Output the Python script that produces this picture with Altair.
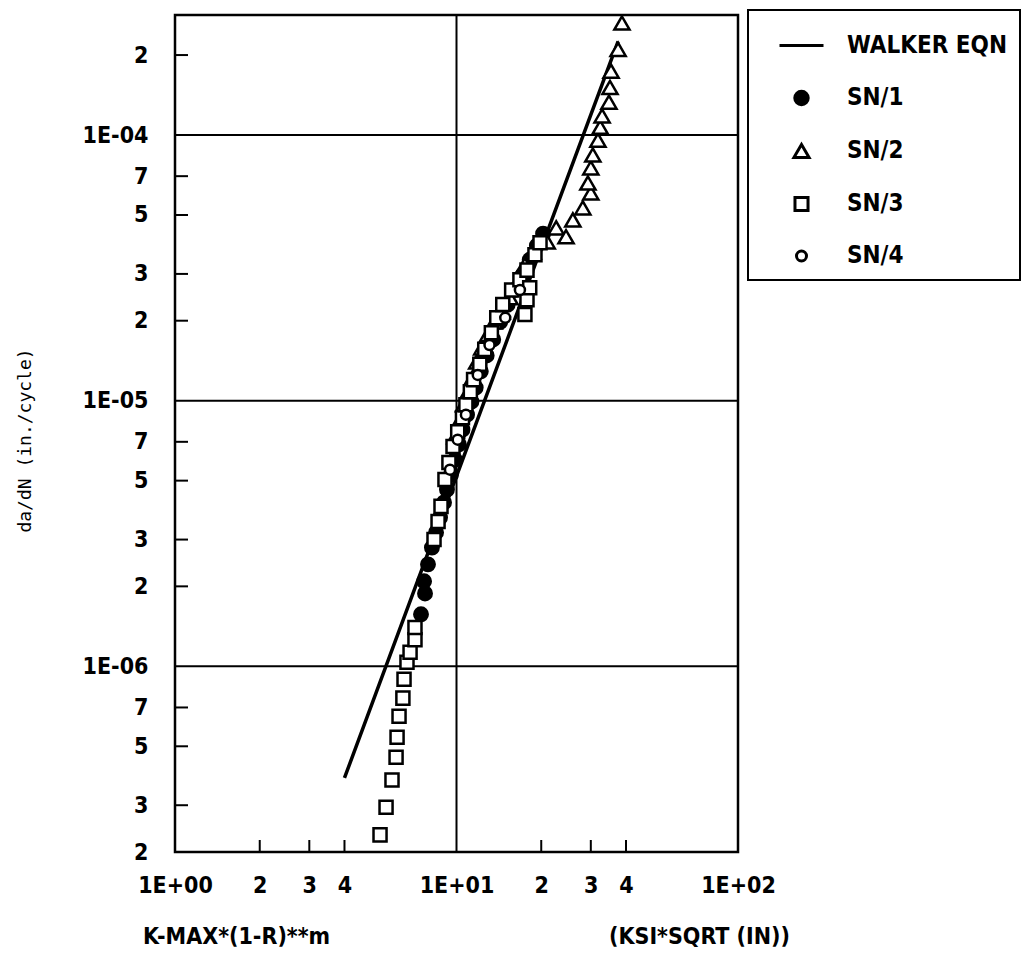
import altair as alt
import pandas as pd

# ---------------- data ----------------
walker_x = [4.0, 10.0, 37.5]
walker_y = [3.8e-7, 5.2e-6, 2.25e-4]

sn1_x = [7.48, 7.73, 7.67, 7.92, 8.18, 8.46, 8.74, 9.03, 9.25, 9.56, 9.88, 10.2,
         10.5, 10.9, 11.3, 11.7, 12.2, 12.8, 13.5, 14.3, 15.2, 16.1, 17.2, 18.2,
         19.3, 20.3]
sn1_y = [1.57e-6, 1.88e-6, 2.09e-6, 2.42e-6, 2.80e-6, 3.19e-6, 3.63e-6, 4.14e-6,
         4.63e-6, 5.27e-6, 6.00e-6, 6.84e-6, 7.78e-6, 8.86e-6, 9.91e-6, 1.12e-5,
         1.29e-5, 1.48e-5, 1.70e-5, 1.98e-5, 2.30e-5, 2.61e-5, 2.98e-5, 3.39e-5,
         3.83e-5, 4.25e-5]

sn2_x = [9.88, 10.3, 10.6, 11.0, 11.4, 11.8, 12.3, 12.9, 13.6, 14.5, 15.5, 16.5,
         17.5, 18.7, 21.0, 22.6, 24.5, 25.9, 28.1, 30.0, 29.3, 30.0, 30.5, 31.8,
         32.4, 32.9, 34.8, 35.1, 35.4, 37.5, 38.7]
sn2_y = [7.32e-6, 8.48e-6, 9.66e-6, 1.08e-5, 1.22e-5, 1.40e-5, 1.58e-5, 1.77e-5,
         1.98e-5, 2.16e-5, 2.44e-5, 2.80e-5, 3.25e-5, 3.63e-5, 3.96e-5, 4.47e-5,
         4.14e-5, 4.79e-5, 5.32e-5, 6.05e-5, 6.60e-5, 7.52e-5, 8.41e-5, 9.57e-5,
         1.07e-4, 1.18e-4, 1.33e-4, 1.51e-4, 1.74e-4, 2.10e-4, 2.64e-4]

sn3_x = [5.35, 5.62, 5.90, 6.10, 6.15, 6.25, 6.45, 6.51, 6.67, 6.84, 7.12, 7.12,
         8.32, 8.60, 8.81, 9.10, 9.40, 9.72, 10.1, 10.5, 10.8, 11.2, 11.5, 12.1,
         12.6, 13.3, 13.9, 14.6, 15.7, 16.8, 17.8, 18.2, 17.5, 19.0, 19.8, 17.8]
sn3_y = [2.32e-7, 2.95e-7, 3.73e-7, 4.55e-7, 5.41e-7, 6.49e-7, 7.59e-7, 8.94e-7,
         1.035e-6, 1.13e-6, 1.26e-6, 1.40e-6,
         3.00e-6, 3.51e-6, 4.00e-6, 5.05e-6, 5.85e-6, 6.72e-6, 7.64e-6, 8.63e-6,
         9.66e-6, 1.08e-5, 1.20e-5, 1.37e-5, 1.56e-5, 1.80e-5, 2.05e-5, 2.30e-5,
         2.61e-5, 2.85e-5, 2.40e-5, 2.66e-5, 2.11e-5, 3.54e-5, 3.93e-5, 3.10e-5]

sn4_x = [9.48, 10.1, 10.8, 11.9, 13.1, 14.9, 16.8]
sn4_y = [5.50e-6, 7.13e-6, 8.86e-6, 1.25e-5, 1.62e-5, 2.05e-5, 2.61e-5]

series_names = ["WALKER EQN", "SN/1", "SN/2", "SN/3", "SN/4"]

x_tick_values = [1, 2, 3, 4, 10, 20, 30, 40, 100]
x_tick_labels = ["1E+00", "2", "3", "4", "1E+01", "2", "3", "4", "1E+02"]
y_tick_values = [2e-7, 3e-7, 5e-7, 7e-7, 1e-6, 2e-6, 3e-6, 5e-6, 7e-6,
                 1e-5, 2e-5, 3e-5, 5e-5, 7e-5, 1e-4, 2e-4]
y_tick_labels = ["2", "3", "5", "7", "1E-06", "2", "3", "5", "7",
                 "1E-05", "2", "3", "5", "7", "1E-04", "2"]
x_minor = [2, 3, 4, 20, 30, 40]
y_minor = [2e-7, 3e-7, 5e-7, 7e-7, 2e-6, 3e-6, 5e-6, 7e-6,
           2e-5, 3e-5, 5e-5, 7e-5, 2e-4]
x_grid = [10]
y_grid = [1e-6, 1e-5, 1e-4]

x_title_left = "K-MAX*(1-R)**m"
x_title_right = "(KSI*SQRT (IN))"
y_title = "da/dN (in./cycle)"

# ---------------- tables ----------------
pts = pd.concat([
    pd.DataFrame({"x": sn1_x, "y": sn1_y, "series": "SN/1"}),
    pd.DataFrame({"x": sn2_x, "y": sn2_y, "series": "SN/2"}),
    pd.DataFrame({"x": sn3_x, "y": sn3_y, "series": "SN/3"}),
    pd.DataFrame({"x": sn4_x, "y": sn4_y, "series": "SN/4"}),
], ignore_index=True)
walker = pd.DataFrame({"x": walker_x, "y": walker_y})

W, H = 563, 837
FONT = "Liberation Sans Narrow, DejaVu Sans Condensed, Arial Narrow, sans-serif"


def label_expr(vals, labs):
    parts = [f"abs(datum.value - {v!r}) < {v * 1e-3!r} ? '{l}'" for v, l in zip(vals, labs)]
    return " : ".join(parts) + " : ''"


xscale = alt.Scale(type="log", domain=[1, 100], nice=False)
yscale = alt.Scale(type="log", domain=[2e-7, 2.83e-4], nice=False)

x_axis = alt.Axis(values=x_tick_values, labelExpr=label_expr(x_tick_values, x_tick_labels),
                  ticks=False, grid=False, labelPadding=22, labelFlush=False,
                  labelOverlap=False, title=x_title_left, titleX=61, titleY=84,
                  titleBaseline="middle", titleAnchor="middle", titleAlign="center")
y_axis = alt.Axis(values=y_tick_values, labelExpr=label_expr(y_tick_values, y_tick_labels),
                  ticks=False, grid=False, labelPadding=27, labelFlush=False,
                  labelOverlap=False, title=y_title, titleX=-150, titleY=425,
                  titleFont="DejaVu Sans Mono", titleFontSize=18, titleFontWeight="normal",
                  titleAlign="center", titleBaseline="middle", titleAngle=270)

X = alt.X("x:Q", scale=xscale, axis=x_axis)
Y = alt.Y("y:Q", scale=yscale, axis=y_axis)

grid_x = alt.Chart(pd.DataFrame({"x": x_grid})).mark_rule(color="black", strokeWidth=2).encode(
    x=alt.X("x:Q", scale=xscale))
grid_y = alt.Chart(pd.DataFrame({"y": y_grid})).mark_rule(color="black", strokeWidth=2).encode(
    y=alt.Y("y:Q", scale=yscale))
tick_x = alt.Chart(pd.DataFrame({"x": x_minor})).mark_rule(color="black", strokeWidth=2).encode(
    x=alt.X("x:Q", scale=xscale), y=alt.value(H - 12), y2=alt.value(H))
tick_y = alt.Chart(pd.DataFrame({"y": y_minor})).mark_rule(color="black", strokeWidth=2).encode(
    y=alt.Y("y:Q", scale=yscale), x=alt.value(0), x2=alt.value(13))

line = alt.Chart(walker).mark_line(color="black", strokeWidth=3.5).encode(x=X, y=Y)

leg = alt.Legend(symbolStrokeColor="black", symbolStrokeWidth=3)

points = alt.Chart(pts).mark_point(filled=False, strokeWidth=2.5, opacity=1).encode(
    x=X, y=Y,
    shape=alt.Shape("series:N", title=None, legend=leg,
                    scale=alt.Scale(domain=series_names,
                                    range=["M-1,0L1,0", "circle", "triangle-up", "square", "circle"])),
    fill=alt.Fill("series:N", title=None, legend=leg,
                  scale=alt.Scale(domain=series_names,
                                  range=["black", "black", "white", "white", "white"])),
    stroke=alt.Stroke("series:N", title=None, legend=leg,
                      scale=alt.Scale(domain=series_names,
                                      range=["black", "black", "black", "black", "black"])),
    size=alt.Size("series:N", title=None, legend=leg,
                  scale=alt.Scale(type="ordinal", domain=series_names,
                                  range=[1936, 180, 230, 170, 100])),
)

chart = alt.layer(grid_x, grid_y, tick_x, tick_y, line, points).properties(
    width=W, height=H,
    autosize=alt.AutoSizeParams(type="none"),
    padding={"left": 175, "top": 15, "right": 288, "bottom": 115},
    title=alt.TitleParams(x_title_right, orient="bottom", anchor="end", frame="group",
                          font=FONT, fontSize=23, fontWeight="bold", color="black",
                          dx=52, dy=-42, offset=20),
).configure_view(
    stroke="black", strokeWidth=2.5
).configure_axis(
    domain=False, labelFont=FONT, labelFontSize=23, labelFontWeight="bold",
    labelColor="black", titleFont=FONT, titleFontSize=23, titleFontWeight="bold",
    titleColor="black"
).configure_legend(
    orient="none", legendX=573, legendY=-5, strokeColor="black", strokeWidth=2,
    padding=12, symbolOffset=18, labelOffset=22, rowPadding=27,
    labelFont=FONT, labelFontSize=24, labelFontWeight="bold", labelColor="black",
    symbolStrokeColor="black", symbolStrokeWidth=3, symbolOpacity=1,
    labelLimit=400, fillColor="white"
)

chart.save("out.html", embed_options={"renderer": "svg", "actions": False})
